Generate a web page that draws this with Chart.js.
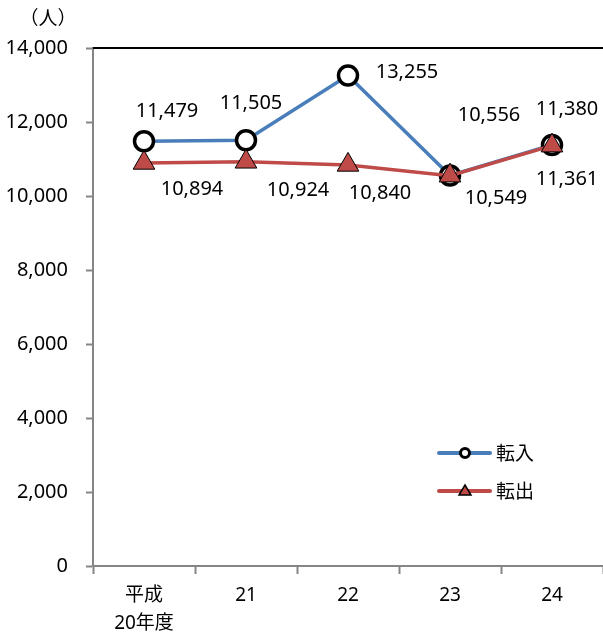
<!DOCTYPE html>
<html>
<head>
<meta charset="utf-8">
<script src="https://cdn.jsdelivr.net/npm/chart.js@4"></script>
<style>
  html, body { margin: 0; padding: 0; background: #fff; overflow: hidden; }
  #wrap { width: 603px; height: 634px; }
</style>
</head>
<body>
<div id="wrap"><canvas id="chart"></canvas></div>
<script>
'use strict';

/* データ */
const CATEGORIES = [['平成', '20年度'], '21', '22', '23', '24'];
const TENNYU     = [11479, 11505, 13255, 10556, 11380];   // 転入
const TENSHUTSU  = [10894, 10924, 10840, 10549, 11361];   // 転出
const Y_TICKS    = [0, 2000, 4000, 6000, 8000, 10000, 12000, 14000];

const COLORS = {
  blue : '#4a7ebb',
  red  : '#be4b48',
  axis : '#868686',
};
const NUM_FONT = "'Noto Sans', 'Noto Sans CJK JP', sans-serif";
const JP_FONT  = "'Noto Sans CJK JP', sans-serif";

/* ラベル位置（点からのずれ） */
const LABEL_OFFSETS = [
  [[23, -30], [5, -37], [59, -3], [39, -60], [15, -36]],
  [[48, 26], [52, 28], [32, 28], [46, 23], [15, 34]],
];

const fmt = v => v.toLocaleString('en-US');

/* ── 追加描画：データラベル・凡例・単位・上枠 ── */
const extras = {
  id: 'extras',
  afterDraw(chart) {
    const { ctx, chartArea } = chart;
    ctx.save();

    // 上枠
    ctx.strokeStyle = '#000';
    ctx.lineWidth = 2;
    ctx.beginPath();
    ctx.moveTo(chartArea.left, chartArea.top);
    ctx.lineTo(chart.width, chartArea.top);
    ctx.stroke();

    // 単位
    ctx.fillStyle = '#000';
    ctx.font = `19px ${JP_FONT}`;
    ctx.textAlign = 'center';
    ctx.textBaseline = 'middle';
    ctx.fillText('（人）', 48, 18);

    // データラベル
    ctx.font = `20px ${NUM_FONT}`;
    [TENNYU, TENSHUTSU].forEach((series, di) => {
      const meta = chart.getDatasetMeta(di === 0 ? 1 : 0);
      series.forEach((v, i) => {
        const pt = meta.data[i];
        const [dx, dy] = LABEL_OFFSETS[di][i];
        ctx.fillText(fmt(v), pt.x + dx, pt.y + dy);
      });
    });

    // 凡例
    const legend = [
      { label: '転入', color: COLORS.blue, y: 453, style: 'circle' },
      { label: '転出', color: COLORS.red,  y: 491, style: 'triangle' },
    ];
    legend.forEach(item => {
      ctx.strokeStyle = item.color;
      ctx.lineWidth = 4;
      ctx.lineCap = 'round';
      ctx.beginPath();
      ctx.moveTo(439, item.y);
      ctx.lineTo(490, item.y);
      ctx.stroke();
      if (item.style === 'circle') {
        ctx.beginPath();
        ctx.arc(465, item.y, 4.5, 0, Math.PI * 2);
        ctx.fillStyle = '#fff';
        ctx.fill();
        ctx.strokeStyle = '#000';
        ctx.lineWidth = 3;
        ctx.stroke();
      } else {
        ctx.beginPath();
        ctx.moveTo(465, item.y - 6);
        ctx.lineTo(471, item.y + 4);
        ctx.lineTo(459, item.y + 4);
        ctx.closePath();
        ctx.fillStyle = COLORS.red;
        ctx.fill();
        ctx.strokeStyle = '#000';
        ctx.lineWidth = 1.5;
        ctx.stroke();
      }
      ctx.fillStyle = '#000';
      ctx.font = `19px ${JP_FONT}`;
      ctx.textAlign = 'left';
      ctx.fillText(item.label, 496, item.y);
    });

    ctx.restore();
  },
};

new Chart(document.getElementById('chart'), {
  type: 'line',
  data: {
    labels: CATEGORIES,
    datasets: [
      {
        label: '転出',
        data: TENSHUTSU,
        borderColor: COLORS.red,
        borderWidth: 3.5,
        pointStyle: 'triangle',
        pointRadius: 12.5,
        pointBackgroundColor: COLORS.red,
        pointBorderColor: '#000',
        pointBorderWidth: 1,
        tension: 0,
        clip: false,
      },
      {
        label: '転入',
        data: TENNYU,
        borderColor: COLORS.blue,
        borderWidth: 3.5,
        pointStyle: 'circle',
        pointRadius: 9.5,
        pointBackgroundColor: '#fff',
        pointBorderColor: '#000',
        pointBorderWidth: 3.5,
        tension: 0,
        clip: false,
      },
    ],
  },
  options: {
    responsive: true, maintainAspectRatio: false,
    animation: false,
    events: [],
    layout: { autoPadding: false, padding: { top: 48, left: 0, right: 0, bottom: 0 } },
    plugins: { legend: { display: false }, tooltip: { enabled: false } },
    scales: {
      x: {
        offset: true,
        afterFit: s => { s.height = 68; s.paddingLeft = 0; s.paddingRight = 0; },
        grid: {
          offset: true, drawOnChartArea: false, drawTicks: true,
          tickLength: 8, tickColor: COLORS.axis, tickWidth: 2,
        },
        border: { color: COLORS.axis, width: 2 },
        ticks: {
          color: '#000', padding: 8, maxRotation: 0, autoSkip: false,
          font: { family: NUM_FONT, size: 19, lineHeight: 1.45 },
        },
      },
      y: {
        min: 0, max: 14000,
        afterFit: s => { s.width = 93; },
        afterBuildTicks: s => { s.ticks = Y_TICKS.map(v => ({ value: v })); },
        grid: {
          drawOnChartArea: false, drawTicks: true,
          tickLength: 7, tickColor: COLORS.axis, tickWidth: 2,
        },
        border: { color: COLORS.axis, width: 2 },
        ticks: {
          color: '#000', padding: 18,
          font: { family: NUM_FONT, size: 20 },
          callback: v => fmt(v),
        },
      },
    },
  },
  plugins: [extras],
});
</script>
</body>
</html>
